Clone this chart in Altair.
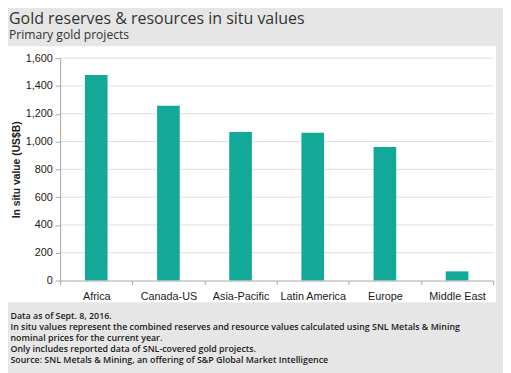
import altair as alt
import pandas as pd

regions = ["Africa", "Canada-US", "Asia-Pacific", "Latin America", "Europe", "Middle East"]
values = [1478, 1257, 1068, 1064, 960, 66]
grid_values = [200, 400, 600, 800, 1000, 1200, 1400, 1600]
footnotes = [
    "Data as of Sept. 8, 2016.",
    "In situ values represent the combined reserves and resource values calculated using SNL Metals & Mining",
    "nominal prices for the current year.",
    "Only includes  reported data of SNL-covered gold projects.",
    "Source: SNL Metals & Mining, an offering of S&P Global Market Intelligence",
]

df = pd.DataFrame({"region": regions, "value": values})
grid_df = pd.DataFrame({"value": grid_values})
panel_df = pd.DataFrame({"a": [0]})

W, H = 440, 226

y_enc = alt.Y(
    "value:Q",
    scale=alt.Scale(domain=[0, 1600], nice=False),
    axis=alt.Axis(
        title="In situ value (US$B)",
        values=[0, 200, 400, 600, 800, 1000, 1200, 1400, 1600],
        format=",.0f",
        grid=False,
        domainColor="#a6a6a6",
        tickColor="#a6a6a6",
        tickSize=5,
        labelFont="Liberation Sans",
        labelFontSize=11,
        labelColor="#1a1a1a",
        labelPadding=3,
        titleFont="Liberation Sans",
        titleFontSize=10.5,
        titleFontWeight="bold",
        titleColor="#1a1a1a",
        titleX=-44,
        titleBaseline="middle",
        zindex=1,
    ),
)

panel = alt.Chart(panel_df).mark_rect(color="white").encode(
    x=alt.value(-55), x2=alt.value(W + 3), y=alt.value(-12), y2=alt.value(H + 22)
)

grid = alt.Chart(grid_df).mark_rule(color="#dedede", strokeWidth=1).encode(y=y_enc)

bars = alt.Chart(df).mark_bar(size=23, color="#13a998").encode(
    x=alt.X(
        "region:N",
        sort=regions,
        scale=alt.Scale(paddingInner=0, paddingOuter=0),
        axis=alt.Axis(
            title=footnotes,
            labelAngle=0,
            tickBand="extent",
            domainColor="#a6a6a6",
            tickColor="#a6a6a6",
            tickSize=4,
            labelFont="Liberation Sans",
            labelFontSize=11,
            labelColor="#1a1a1a",
            labelPadding=6,
            titleFont="Open Sans",
            titleFontSize=9,
            titleFontWeight=600,
            titleColor="#1a1a1a",
            titleAlign="left",
            titleAnchor="start",
            titleBaseline="alphabetic",
            titleX=-51,
            titleY=38.5,
            titleLineHeight=11.3,
            zindex=1,
        ),
    ),
    y=y_enc,
)

chart = alt.layer(panel, grid, bars).properties(
    width=W,
    height=H,
    title=alt.TitleParams(
        text="Gold reserves & resources in situ values",
        subtitle="Primary gold projects",
        anchor="start",
        frame="group",
        font="Open Sans",
        fontSize=16.2,
        fontWeight="normal",
        color="#333333",
        subtitleFont="Open Sans",
        subtitleFontSize=12.3,
        subtitleColor="#333333",
        subtitlePadding=2,
        dx=-52,
        offset=5,
    ),
    autosize=alt.AutoSizeParams(type="none"),
    padding={"left": 53, "top": 48, "right": 10, "bottom": 91},
    background="#e6e6e6",
).configure_view(stroke=None)

chart.save("out.html", embed_options={"renderer": "svg", "actions": False})
